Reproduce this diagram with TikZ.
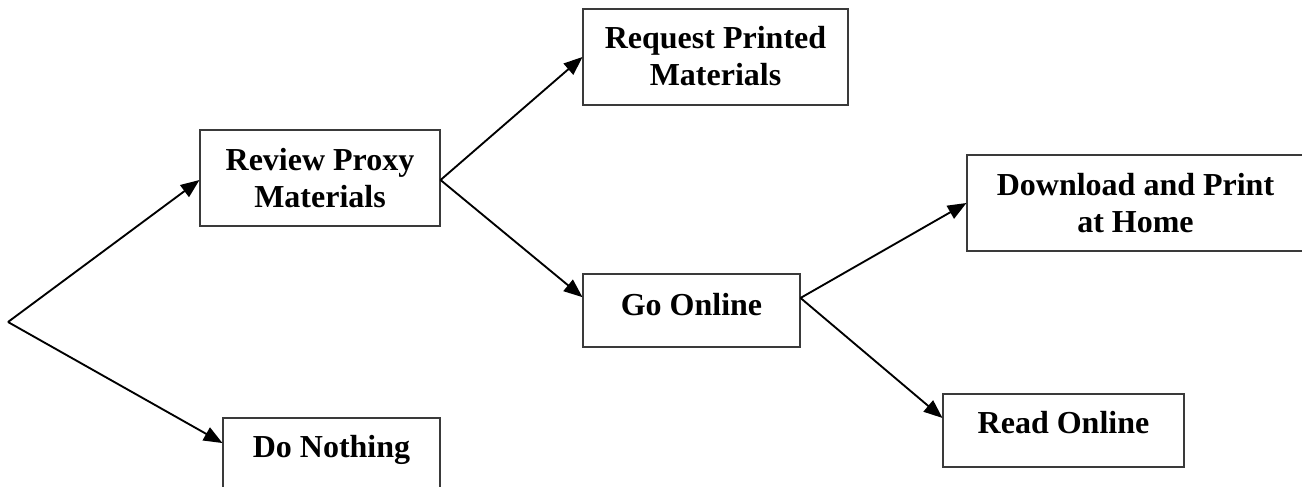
\documentclass[tikz,border=0pt]{standalone}
\usepackage{fontspec}
\setmainfont{Liberation Serif}
\usetikzlibrary{arrows.meta}
\definecolor{boxgray}{HTML}{3A3A3A}
\newcommand{\boxtext}[2]{\raisebox{#1}[0pt][0pt]{\begin{tabular}[t]{@{}c@{}}#2\end{tabular}}}
\begin{document}
\begin{tikzpicture}[x=0.75pt,y=-0.75pt,
  box/.style={draw=boxgray, line width=0.8pt, inner sep=0pt, anchor=center,
    font=\fontsize{24}{27.75}\selectfont\bfseries},
  tall/.style={box, minimum height=72pt},
  short/.style={box, minimum height=54.75pt},
  arr/.style={draw=black, line width=1.4pt, -{Triangle[length=14pt,width=11pt]}}]
\useasboundingbox (0,0) rectangle (1302,486);
\clip (0,0) rectangle (1302,486);
\node[tall, minimum width=180pt] (rev) at (320,178) {\boxtext{6pt}{Review Proxy\\Materials}};
\node[tall, minimum width=198.75pt] (req) at (715.5,57) {\boxtext{6.75pt}{Request Printed\\Materials}};
\node[short, minimum width=162.75pt] (go) at (691.5,310.5) {\boxtext{-3.4pt}{Go Online}};
\node[tall, minimum width=252.75pt] (dl) at (1135.5,203) {\boxtext{6pt}{Download and Print\\at Home}};
\node[short, minimum width=180.75pt] (rd) at (1063.5,430.5) {\boxtext{-2.6pt}{Read Online}};
\node[short, minimum width=162.75pt] (dn) at (331.5,454.5) {\boxtext{-2.6pt}{Do Nothing}};
\coordinate (start) at (8,322);
\draw[arr] (start) -- ([yshift=-1.5pt]rev.west);
\draw[arr] (start) -- ([yshift=8.6pt]dn.west);
\draw[arr] ([yshift=-1.5pt]rev.east) -- (req.west);
\draw[arr] ([yshift=-1.5pt]rev.east) -- ([yshift=10pt]go.west);
\draw[arr] ([yshift=9.4pt]go.east) -- (dl.west);
\draw[arr] ([yshift=9.4pt]go.east) -- ([yshift=9.4pt]rd.west);
\end{tikzpicture}
\end{document}
